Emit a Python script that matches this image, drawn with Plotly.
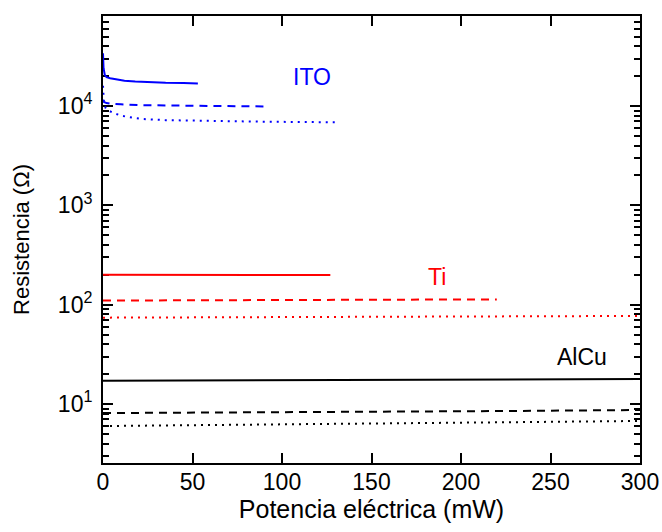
import math
import plotly.graph_objects as go

# Resistance vs electrical power for three films (ITO, Ti, AlCu), three samples each
ito_solid_x = [0, 0.3, 1, 2, 4, 7, 12, 18, 25, 35, 45, 53]
ito_solid_y = [34000, 24000, 20500, 19500, 19000, 18600, 18000, 17600, 17300, 17100, 17000, 16800]
ito_dash_x = [0, 0.5, 2, 5, 10, 20, 40, 60, 90]
ito_dash_y = [11500, 11000, 10700, 10500, 10400, 10200, 10100, 10000, 9900]
ito_dot_x = [0, 0.5, 1.5, 3, 6, 10, 15, 22, 35, 50, 70, 90, 110, 130]
ito_dot_y = [16000, 11000, 9500, 9000, 8500, 8000, 7700, 7400, 7200, 7100, 7000, 6950, 6900, 6850]

ti_solid_x = [0, 40, 80, 127]
ti_solid_y = [200, 199, 199, 199]
ti_dash_x = [0, 60, 120, 180, 220]
ti_dash_y = [110, 111, 112, 112.5, 113]
ti_dot_x = [0, 75, 150, 225, 300]
ti_dot_y = [74, 74.5, 75.5, 76.3, 77]

alcu_solid_x = [0, 75, 150, 225, 300]
alcu_solid_y = [17.1, 17.2, 17.4, 17.6, 17.8]
alcu_dash_x = [0, 75, 150, 225, 300]
alcu_dash_y = [8.1, 8.2, 8.35, 8.5, 8.7]
alcu_dot_x = [0, 75, 150, 225, 300]
alcu_dot_y = [6.0, 6.15, 6.35, 6.55, 6.75]

labels = ["ITO", "Ti", "AlCu"]
label_x = [117, 186.5, 267.5]
label_y = [19600, 191, 29.7]

y_tickvals = [10, 100, 1000, 10000]
y_ticktext = ["10<sup>1</sup>", "10<sup>2</sup>", "10<sup>3</sup>", "10<sup>4</sup>"]
x_tickvals = [0, 50, 100, 150, 200, 250, 300]

BLUE, RED, BLACK = "#0000ff", "#ff0000", "#000000"
DASH = "8px,6px"
DOT = "2px,5px"
FAMILY = "Liberation Sans, Arial, sans-serif"
TICK_SIZE = 23

series = [
    (ito_solid_x, ito_solid_y, BLUE, "solid"),
    (ito_dash_x, ito_dash_y, BLUE, DASH),
    (ito_dot_x, ito_dot_y, BLUE, DOT),
    (ti_solid_x, ti_solid_y, RED, "solid"),
    (ti_dash_x, ti_dash_y, RED, DASH),
    (ti_dot_x, ti_dot_y, RED, DOT),
    (alcu_solid_x, alcu_solid_y, BLACK, "solid"),
    (alcu_dash_x, alcu_dash_y, BLACK, DASH),
    (alcu_dot_x, alcu_dot_y, BLACK, DOT),
]

fig = go.Figure()
for xs, ys, color, dash in series:
    fig.add_trace(go.Scatter(x=xs, y=ys, mode="lines",
                             line=dict(color=color, width=2, dash=dash),
                             showlegend=False, hoverinfo="skip"))

# on a log axis, annotation y positions are given as log10 of the value
for text, lx, ly, color in zip(labels, label_x, label_y, [BLUE, RED, BLACK]):
    fig.add_annotation(x=lx, y=math.log10(ly), xref="x", yref="y", text=text,
                       showarrow=False,
                       font=dict(size=23, color=color, family=FAMILY))

fig.update_layout(
    width=662, height=532,
    margin=dict(l=103, r=22, t=16, b=69),
    plot_bgcolor="white", paper_bgcolor="white",
    font=dict(family=FAMILY, size=TICK_SIZE, color="black"),
)
fig.update_xaxes(
    range=[0, 300], tickvals=x_tickvals, automargin=False,
    ticks="inside", ticklen=10, tickwidth=1.5, tickcolor="black",
    ticklabelstandoff=-3,
    showline=True, linewidth=2, linecolor="black", mirror="ticks",
    showgrid=False, zeroline=False, layer="below traces",
    title=dict(text="Potencia eléctrica (mW)", standoff=7,
               font=dict(size=25, family=FAMILY)),
    tickfont=dict(size=TICK_SIZE, family=FAMILY),
)
fig.update_yaxes(
    type="log", range=[0.406, 4.906], automargin=False,
    tickvals=y_tickvals, ticktext=y_ticktext,
    ticks="inside", ticklen=10, tickwidth=1.5, tickcolor="black",
    ticklabelstandoff=4,
    minor=dict(ticks="inside", ticklen=6, tickwidth=1.5, tickcolor="black",
               dtick="D1", showgrid=False),
    showline=True, linewidth=2, linecolor="black", mirror="ticks",
    showgrid=False, zeroline=False, layer="below traces",
    title=dict(text="Resistencia (Ω)", standoff=22,
               font=dict(size=22, family=FAMILY)),
    tickfont=dict(size=TICK_SIZE, family=FAMILY),
)

fig.write_html("out.html")
